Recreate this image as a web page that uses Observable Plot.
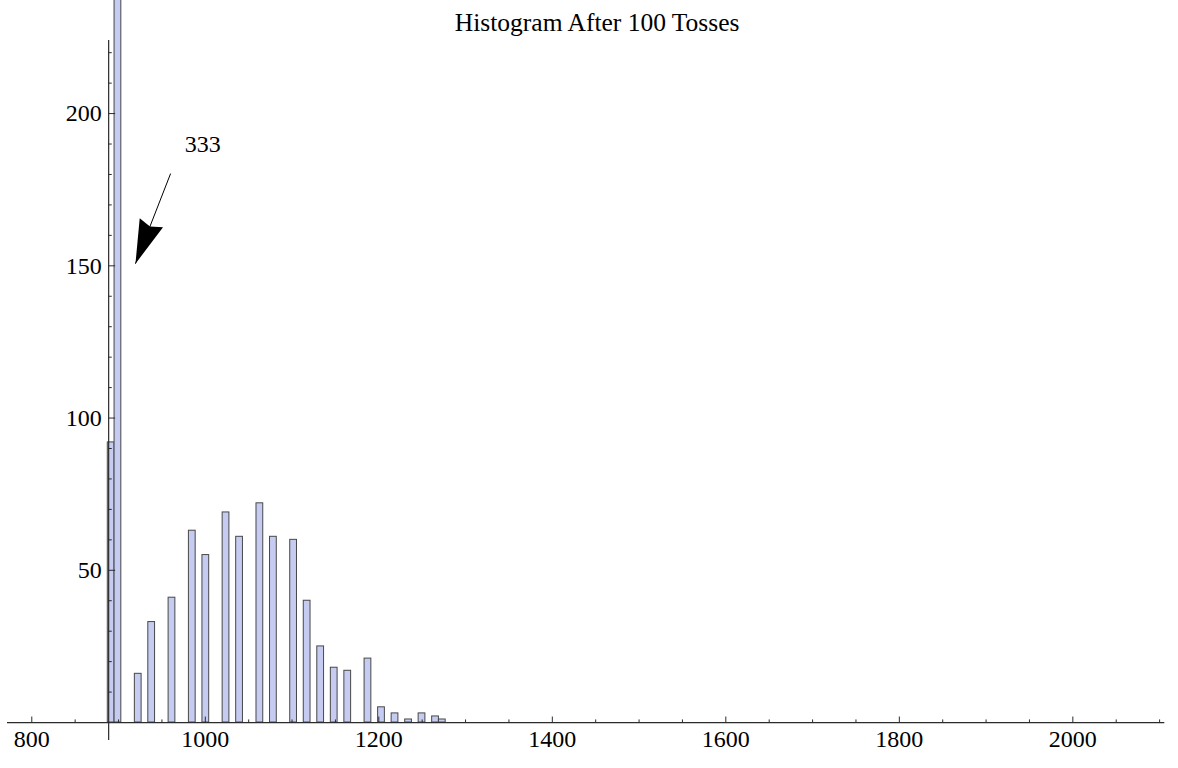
<!DOCTYPE html>
<html>
<head>
<meta charset="utf-8">
<script src="https://cdn.jsdelivr.net/npm/d3@7"></script>
<script src="https://cdn.jsdelivr.net/npm/@observablehq/plot@0.6"></script>
<style>
  html, body { margin: 0; padding: 0; background: #fff; }
  #chart svg { display: block; }
</style>
</head>
<body>
<div id="chart"></div>
<script>
// ---- data ----
const titleText = "Histogram After 100 Tosses";
const binStart = [887.6, 895.4, 918.8, 934.3, 957.7, 981.1, 996.7, 1020.0, 1035.6, 1059.0, 1074.6, 1097.9,
                  1113.5, 1129.1, 1144.7, 1160.3, 1183.6, 1199.2, 1214.8, 1230.4, 1245.9, 1261.5, 1269.3];
const counts   = [92, 333, 16, 33, 41, 63, 55, 69, 61, 72, 61, 60,
                  40, 25, 18, 17, 21, 5, 3, 1, 3, 2, 1];
const binWidth = 7.79;

const xMajorTicks = [800, 1000, 1200, 1400, 1600, 1800, 2000];
const xMinorTicks = [850, 900, 950, 1050, 1100, 1150, 1250, 1300, 1350, 1450, 1500, 1550,
                     1650, 1700, 1750, 1850, 1900, 1950, 2050, 2100];
const yMajorTicks = [50, 100, 150, 200];
const yMinorTicks = [10, 20, 30, 40, 60, 70, 80, 90, 110, 120, 130, 140, 160, 170, 180, 190, 210, 220];

// annotation pointing at the clipped tall bar
const annotationLabel = ["333"];
const annotationPos = {x: 997, y: 190};
const arrowFrom = {x: 960, y: 180.3};
const arrowTo = {x: 919.5, y: 150.7};

// axes configuration
const axisOriginX = 888.6;
const xDomain = [772, 2106];
const yDomain = [-5.9, 224];

// ---- layout ----
const W = 1178, H = 768;
const mL = 7, mR = 13.7, mT = 40, mB = 28;
const pxPerX = (W - mL - mR) / (xDomain[1] - xDomain[0]);
const pxPerY = (H - mT - mB) / (yDomain[1] - yDomain[0]);
const xTickMajorLen = 5.5 / pxPerY, xTickMinorLen = 2.6 / pxPerY;
const yTickMajorLen = 7 / pxPerX, yTickMinorLen = 3.6 / pxPerX;

const bins = binStart.map((s, i) => ({x1: s, x2: s + binWidth, count: counts[i]}));

const font = "'Liberation Serif', 'Times New Roman', serif";
const axisColor = "#2b2b2b";

const arrowHead = {
  draw(ctx) {
    ctx.moveTo(0, 0);
    ctx.lineTo(-12.5, -44);
    ctx.lineTo(0, -40);
    ctx.lineTo(12.5, -44);
    ctx.closePath();
  }
};
const arrowAngle = 21.2;

const chart = Plot.plot({
  width: W,
  height: H,
  marginLeft: mL,
  marginRight: mR,
  marginTop: mT,
  marginBottom: mB,
  style: {fontFamily: font, background: "#fff", color: "#000"},
  x: {domain: xDomain, axis: null},
  y: {domain: yDomain, axis: null},
  marks: [
    Plot.rectY(bins, {x1: "x1", x2: "x2", y: "count", fill: "#c6ccf1", stroke: "#484848", strokeWidth: 1}),
    // x axis
    Plot.ruleY([0], {stroke: axisColor, strokeWidth: 1.2}),
    Plot.ruleX(xMajorTicks, {x: d => d, y1: () => 0, y2: () => xTickMajorLen, stroke: axisColor, strokeWidth: 1}),
    Plot.ruleX(xMinorTicks, {x: d => d, y1: () => 0, y2: () => xTickMinorLen, stroke: axisColor, strokeWidth: 1}),
    Plot.text(xMajorTicks, {x: d => d, y: () => 0, text: d => String(d), lineAnchor: "top", dy: 7,
      fontSize: 24, fontFamily: font, fill: "#000"}),
    // y axis
    Plot.ruleX([axisOriginX], {stroke: axisColor, strokeWidth: 1.2}),
    Plot.ruleY(yMajorTicks, {y: d => d, x1: () => axisOriginX, x2: () => axisOriginX + yTickMajorLen, stroke: axisColor, strokeWidth: 1}),
    Plot.ruleY(yMinorTicks, {y: d => d, x1: () => axisOriginX, x2: () => axisOriginX + yTickMinorLen, stroke: axisColor, strokeWidth: 1}),
    Plot.text(yMajorTicks, {x: () => axisOriginX, y: d => d, text: d => String(d), textAnchor: "end", dx: -7,
      lineAnchor: "middle", fontSize: 24, fontFamily: font, fill: "#000"}),
    // annotation
    Plot.link([0], {x1: () => arrowFrom.x, y1: () => arrowFrom.y, x2: () => arrowTo.x, y2: () => arrowTo.y,
      stroke: "#000", strokeWidth: 1}),
    Plot.dot([0], {x: () => arrowTo.x, y: () => arrowTo.y, symbol: arrowHead, r: 1, fill: "#000", stroke: "none",
      rotate: arrowAngle}),
    Plot.text(annotationLabel, {x: () => annotationPos.x, y: () => annotationPos.y, text: d => d,
      fontSize: 24, fontFamily: font, fill: "#000"}),
    // title
    Plot.text([titleText], {frameAnchor: "top", text: d => d, dy: -18, dx: 11, lineAnchor: "middle",
      fontSize: 25.5, fontFamily: font, fill: "#000"})
  ]
});
document.getElementById("chart").appendChild(chart);
</script>
</body>
</html>
